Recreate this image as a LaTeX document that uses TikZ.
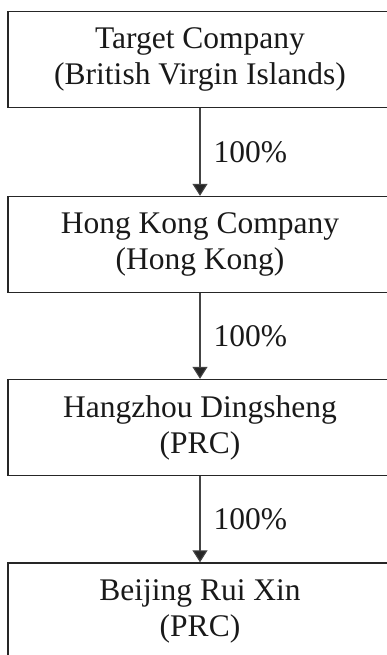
\documentclass[tikz,border=0pt]{standalone}
\usepackage{fontspec}
\setmainfont{Liberation Serif}
\usetikzlibrary{arrows.meta}
\definecolor{boxline}{HTML}{262626}
\definecolor{arrline}{HTML}{444444}
\begin{document}
\begin{tikzpicture}[x=1pt,y=1pt,
  entity/.style={draw=boxline, line width=1.4pt, minimum width=384pt, minimum height=96pt,
    align=center, inner sep=0pt, font=\fontsize{31.5}{36}\selectfont, text=black!90},
  own/.style={draw=arrline, line width=1.1pt, -{Triangle[width=15pt 0 0,length=12pt 0 0,fill=black!85]}},
  pct/.style={midway, anchor=west, xshift=13pt, inner sep=0pt, font=\fontsize{31.5}{36}\selectfont, text=black!90}]
\useasboundingbox (0,0) rectangle (386,-655);
\node[entity] (tc) at (200,-59.5) {Target Company\\(British Virgin Islands)};
\node[entity] (hk) at (200,-244.5) {Hong Kong Company\\(Hong Kong)};
\node[entity] (hz) at (200,-427.5) {Hangzhou Dingsheng\\(PRC)};
\node[entity] (bj) at (200,-611) {Beijing Rui Xin\\(PRC)};
\draw[own] (tc) -- (hk) node[pct] {100\%};
\draw[own] (hk) -- (hz) node[pct] {100\%};
\draw[own] (hz) -- (bj) node[pct] {100\%};
\end{tikzpicture}
\end{document}
